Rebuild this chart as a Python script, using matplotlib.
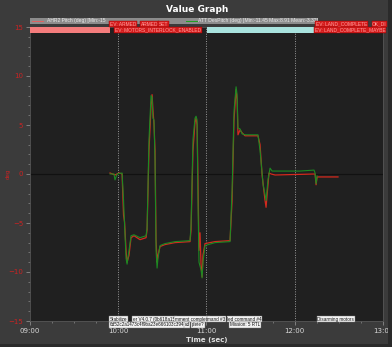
import matplotlib
matplotlib.use('Agg')
import matplotlib.pyplot as plt
import matplotlib.transforms as mtransforms
from matplotlib.patches import Rectangle
from matplotlib.ticker import MultipleLocator, FuncFormatter

# ---------------- data ----------------
ahr2_t = [594.4, 597.8, 600.5, 602.6, 603.6, 604.3, 605.3, 606.0, 607.3, 608.7, 610.7,
          614.8, 618.9, 619.6, 620.9, 622.3, 623.0, 623.6, 624.3, 625.0, 625.7, 626.4,
          627.0, 628.4, 631.8, 638.6, 648.8, 649.5, 650.8, 652.2, 652.9, 653.6, 654.2,
          654.9, 655.6, 656.3, 657.0, 657.6, 659.0, 665.8, 676.0, 677.4, 678.7, 680.1,
          680.8, 681.4, 682.8, 684.2, 686.2, 695.0, 696.4, 697.8, 699.8, 700.5, 701.2,
          702.5, 703.9, 706.6, 733.8, 734.5, 735.2, 749.4]
ahr2_v = [0.1, -0.1, 0.1, 0.0, -4.2, -4.9, -7.8, -9.0, -8.3, -6.5, -6.3,
          -6.7, -6.5, -5.7, 2.4, 7.0, 8.1, 6.5, 5.1, 2.4, -6.7, -9.0,
          -8.3, -7.4, -7.2, -7.0, -6.9, -5.7, 2.4, 5.3, 5.7, 5.0, -0.6,
          -7.8, -6.0, -9.3, -10.5, -8.3, -7.1, -6.9, -6.8, -2.7, 5.5, 8.6,
          7.6, 4.0, 4.5, 4.2, 3.9, 3.9, 3.0, -0.1, -2.7, -3.4, -2.1,
          0.1, 0.0, -0.1, 0.0, -1.1, -0.3, -0.3]

att_t = [594.4, 597.1, 597.8, 599.2, 602.6, 603.6, 604.3, 605.3, 606.0, 607.3, 608.7,
         610.7, 614.8, 618.9, 619.6, 620.9, 622.3, 623.0, 623.6, 624.3, 625.0, 625.7,
         626.4, 627.0, 628.4, 631.8, 638.6, 648.8, 649.5, 650.8, 652.2, 652.9, 653.6,
         654.2, 654.9, 656.3, 657.0, 657.6, 659.0, 665.8, 676.0, 677.4, 678.7, 680.1,
         680.8, 681.4, 682.8, 684.2, 686.2, 695.0, 696.4, 698.5, 699.8, 700.5, 701.8,
         703.2, 704.6, 710.0, 723.6, 733.1, 733.8, 734.5, 735.2]
att_v = [0.0, 0.0, -0.6, 0.0, 0.1, -2.7, -5.2, -8.6, -9.2, -7.8, -6.3,
         -6.2, -6.5, -6.3, -5.5, 3.5, 8.0, 7.8, 5.7, 5.5, 1.4, -7.8,
         -9.6, -8.6, -7.3, -7.1, -6.9, -6.8, -5.2, 3.5, 5.7, 5.9, 5.5,
         -2.7, -9.0, -9.8, -10.6, -9.0, -7.3, -7.0, -6.9, -1.6, 6.4, 8.9,
         8.1, 4.7, 4.6, 4.1, 4.0, 4.0, 2.4, -1.1, -2.1, -2.7, -0.6,
         0.6, 0.3, 0.3, 0.3, 0.4, 0.1, -1.0, -0.2]

legend_labels = ["AHR2 Pitch (deg) [Min:-15", "ATT DesPitch (deg) [Min:-11.45 Max:8.91 Mean:-3.32]"]
x_ticks = [540, 600, 660, 720, 780]
y_ticks = [-15, -10, -5, 0, 5, 10, 15]

mode_bands = [(540.0, 594.4, '#f47c7c'), (660.4, 733.8, '#a9e3de')]

# event labels at top: (text, time, row)
top_events = [("EV: ARMED", 594.4, 0), ("ARMED", 615.5, 0), ("SET", 627.7, 0),
              ("EV: MOTORS_INTERLOCK_ENABLED", 597.8, 1),
              ("EV: LAND_COMPLETE", 734.5, 0), ("OK_DI", 772.6, 0),
              ("EV: LAND_COMPLETE_MAYBE", 733.8, 1)]
# messages at bottom: (text, time, row)
bottom_msgs = [("Stabilize", 594.4, 0), ("er V4.0.7 (0b618a15)", 609.8, 0),
               ("mment complete", 638.5, 0), ("mand #3", 660.5, 0),
               ("led command #4", 674.0, 0), ("Disarming motors", 735.2, 0),
               ("6d52c2a1473c4f9ba23e666103c394cd", 594.4, 1), ("ud", 645.0, 1),
               ("plete?", 650.0, 1), ("Mission: 5 RTL", 676.0, 1)]
msg_sizes = [3.35, 3.25]

# ---------------- figure ----------------
W, H = 392, 347
fig = plt.figure(figsize=(W / 100, H / 100), dpi=100, facecolor='#3b3b3b')
# dark window edges
fig.patches.append(Rectangle((388 / W, 0), 4 / W, 1, transform=fig.transFigure,
                             fc='#2a2a2a', ec='none', zorder=0))
fig.patches.append(Rectangle((0, 0), 1, 3 / H, transform=fig.transFigure,
                             fc='#2a2a2a', ec='none', zorder=0))

ax = fig.add_axes([30 / W, 26 / H, 353 / W, 294 / H], facecolor='#202020')
ax.set_xlim(540, 780)
ax.set_ylim(-15, 15)

ax.set_xticks(x_ticks)
ax.set_yticks(y_ticks)
ax.xaxis.set_minor_locator(MultipleLocator(15))
ax.yaxis.set_minor_locator(MultipleLocator(1))
ax.xaxis.set_major_formatter(FuncFormatter(lambda v, p: f"{int(v // 60):02d}:{int(v % 60):02d}"))
ax.tick_params(axis='x', colors='#8a8a8a', labelcolor='#d8d8d8', labelsize=5,
               length=3, width=0.6, pad=2)
ax.tick_params(axis='y', colors='#8a8a8a', labelcolor='#cc2222', labelsize=5,
               length=3, width=0.6, pad=2)
ax.tick_params(which='minor', length=1.5, width=0.5, colors='#8a8a8a')
for s in ax.spines.values():
    s.set_color('#555555')
    s.set_linewidth(0.6)

for xv in x_ticks[1:-1]:
    ax.axvline(xv, color='#9a9a9a', lw=0.7, ls=(0, (1, 1.5)), zorder=1)
ax.axhline(0, color='#111111', lw=0.9, zorder=1)

ax.plot(ahr2_t, ahr2_v, color='#d42a1e', lw=0.9, zorder=3)
ax.plot(att_t, att_v, color='#1c8a22', lw=0.8, zorder=4)

trans = mtransforms.blended_transform_factory(ax.transData, fig.transFigure)

def fy(ypx):
    return 1 - ypx / H

# mode bands
for t0, t1, c in mode_bands:
    ax.add_patch(Rectangle((t0, fy(33)), t1 - t0, 6 / H, transform=trans,
                           fc=c, ec='none', clip_on=False, zorder=5))

# legend strip
ax.add_patch(Rectangle((540, fy(23.5)), 736 - 540, 6 / H, transform=trans,
                       fc='#8c8c8c', ec='none', clip_on=False, zorder=5))
ax.plot([541.4, 548.8], [fy(20.5)] * 2, transform=trans, color='#e06060', lw=0.7,
        clip_on=False, zorder=6)
ax.plot([646.0, 653.6], [fy(20.5)] * 2, transform=trans, color='#20a020', lw=0.7,
        clip_on=False, zorder=6)
ax.text(551.5, fy(20.5), legend_labels[0], transform=trans, fontsize=3.6,
        family='Liberation Sans', color='#e8e8e8', va='center', ha='left',
        clip_on=False, zorder=6)
ax.text(654.5, fy(20.5), legend_labels[1], transform=trans, fontsize=3.6,
        family='Liberation Sans', color='#e8e8e8', va='center', ha='left',
        clip_on=False, zorder=6)

# top events
row_y_top = [24.0, 29.8]
for i, (txt, t, row) in enumerate(top_events):
    ax.text(t, fy(row_y_top[row]), txt, transform=trans, fontsize=3.5,
            family='Liberation Sans', color='#ff9c9c', va='center', ha='left',
            clip_on=False, zorder=7 + i * 0.01,
            bbox=dict(boxstyle='square,pad=0.12', fc='#d41c1c', ec='#9a0000', lw=0.3))

# bottom messages
row_y_bot = [319.3, 324.8]
for i, (txt, t, row) in enumerate(bottom_msgs):
    ax.text(t, fy(row_y_bot[row]), txt, transform=trans, fontsize=msg_sizes[row],
            family='Liberation Sans', color='#111111', va='center', ha='left',
            clip_on=False, zorder=7 + i * 0.01,
            bbox=dict(boxstyle='square,pad=0.12', fc='#f4f4f4', ec='#777777', lw=0.3))

fig.text(197 / W, fy(10), 'Value Graph', color='white', fontsize=6.5,
         fontweight='bold', ha='center', va='center')
fig.text(8 / W, fy(174), 'deg', color='#cc2222', fontsize=4, rotation=90,
         ha='center', va='center')
fig.text(207 / W, fy(340), 'Time (sec)', color='#e0e0e0', fontsize=5,
         fontweight='bold', ha='center', va='center')

fig.savefig('out.png', dpi=100, facecolor=fig.get_facecolor())
